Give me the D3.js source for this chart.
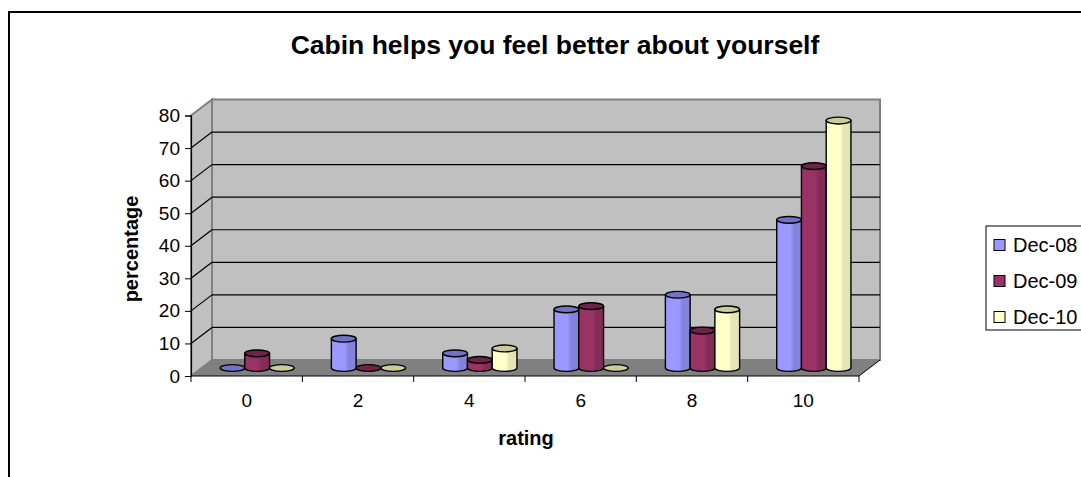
<!DOCTYPE html>
<html>
<head>
<meta charset="utf-8">
<script src="https://cdn.jsdelivr.net/npm/d3@7"></script>
<style>
  body { margin: 0; background: #fff; }
  svg { display: block; font-family: Arial, "Liberation Sans", sans-serif; }
</style>
</head>
<body>
<div id="chart"></div>
<script>
'use strict';

// data
const categories = ["0", "2", "4", "6", "8", "10"];
const seriesNames = ["Dec-08", "Dec-09", "Dec-10"];
const dec08 = [0, 9, 4.5, 18, 22.5, 45.5];
const dec09 = [4.5, 0, 2.5, 19, 11.5, 62];
const dec10 = [0, 0, 6, 0, 18, 76];
const yTicks = [0, 10, 20, 30, 40, 50, 60, 70, 80];

const seriesValues = [dec08, dec09, dec10];

// body colour, darker side, top ellipse
const colors = {
  "Dec-08": { body: "#9999ff", dark: "#8383dc", top: "#7373c6" },
  "Dec-09": { body: "#993366", dark: "#842c58", top: "#6e2449" },
  "Dec-10": { body: "#ffffcc", dark: "#e4e4b4", top: "#cccc99" }
};

const W = 1081, H = 477;
// front plane of the 3d box, plus depth offset
const left = 191, right = 859, floorY = 376, topY = 115.5;
const dx = 21, dy = 16;

const svg = d3.select("#chart").append("svg")
  .attr("width", W).attr("height", H);

// outer chart border (runs off the window)
svg.append("rect")
  .attr("x", 9).attr("y", 12)
  .attr("width", W + 20).attr("height", H + 20)
  .attr("fill", "#fff").attr("stroke", "#000").attr("stroke-width", 2);

const x = d3.scaleBand().domain(categories).range([left, right])
  .paddingInner(1 / 3).paddingOuter(1 / 6);
const xs = d3.scaleBand().domain(seriesNames).range([0, x.bandwidth()]);
const y = d3.scaleLinear().domain([0, 80]).range([floorY, topY]);

// ****************** walls and floor ***************************
const defs = svg.append("defs");
seriesNames.forEach(function(s, i) {
  const g = defs.append("linearGradient").attr("id", "grad" + i)
    .attr("x1", "0%").attr("x2", "100%");
  g.append("stop").attr("offset", "0%").attr("stop-color", colors[s].body);
  g.append("stop").attr("offset", "55%").attr("stop-color", colors[s].body);
  g.append("stop").attr("offset", "70%").attr("stop-color", colors[s].dark);
  g.append("stop").attr("offset", "100%").attr("stop-color", colors[s].dark);
});

const wallStroke = "#808080";
// side wall
svg.append("path")
  .attr("d", `M${left},${y(0)} L${left},${y(80)} L${left + dx},${y(80) - dy} L${left + dx},${y(0) - dy} Z`)
  .attr("fill", "#c0c0c0").attr("stroke", wallStroke).attr("stroke-width", 2);
// back wall
svg.append("rect")
  .attr("x", left + dx).attr("y", y(80) - dy)
  .attr("width", right - left).attr("height", y(0) - y(80))
  .attr("fill", "#c0c0c0").attr("stroke", wallStroke).attr("stroke-width", 2);
// floor
svg.append("path")
  .attr("d", `M${left},${y(0)} L${right},${y(0)} L${right + dx},${y(0) - dy} L${left + dx},${y(0) - dy} Z`)
  .attr("fill", "#808080").attr("stroke", "none");
svg.append("line")
  .attr("x1", right).attr("y1", y(0)).attr("x2", right + dx).attr("y2", y(0) - dy)
  .attr("stroke", "#000").attr("stroke-width", 1);

// gridlines
const grid = yTicks.filter(function(t) { return t > 0 && t < 80; });
svg.selectAll("line.gridSide").data(grid).enter().append("line")
  .attr("class", "gridSide")
  .attr("x1", left).attr("y1", function(d) { return y(d); })
  .attr("x2", left + dx).attr("y2", function(d) { return y(d) - dy; })
  .attr("stroke", "#000").attr("stroke-width", 1.2);
svg.selectAll("line.gridBack").data(grid).enter().append("line")
  .attr("class", "gridBack")
  .attr("x1", left + dx).attr("y1", function(d) { return y(d) - dy; })
  .attr("x2", right + dx).attr("y2", function(d) { return y(d) - dy; })
  .attr("stroke", "#000").attr("stroke-width", 1.2);

// ****************** axes ***************************
const yAxis = svg.append("g")
  .attr("transform", `translate(${left},0)`)
  .call(d3.axisLeft(y).tickValues(yTicks).tickSize(6).tickPadding(5));
yAxis.select(".domain").attr("stroke", "#000").attr("stroke-width", 1.2);
yAxis.selectAll(".tick line").attr("stroke", "#000");
yAxis.selectAll("text").attr("font-size", 19).attr("font-family", "Arial, 'Liberation Sans', sans-serif").attr("fill", "#000");

svg.append("line")
  .attr("x1", left).attr("y1", floorY).attr("x2", right).attr("y2", floorY)
  .attr("stroke", "#000").attr("stroke-width", 1.2);
const bounds = d3.range(categories.length + 1).map(function(i) { return left + i * x.step(); });
svg.selectAll("line.xtick").data(bounds).enter().append("line")
  .attr("class", "xtick")
  .attr("x1", function(d) { return d; }).attr("x2", function(d) { return d; })
  .attr("y1", floorY).attr("y2", floorY + 6)
  .attr("stroke", "#000");
svg.selectAll("text.xlab").data(categories).enter().append("text")
  .attr("class", "xlab")
  .attr("x", function(d) { return x(d) + x.bandwidth() / 2; })
  .attr("y", 407)
  .attr("text-anchor", "middle").attr("font-size", 19)
  .text(function(d) { return d; });

// ****************** cylinders ***************************
const rx = xs.bandwidth() / 2, ry = 3.4;
const bars = [];
seriesNames.forEach(function(s, si) {
  categories.forEach(function(c, ci) {
    bars.push({ s: s, si: si, c: c, v: seriesValues[si][ci] });
  });
});
const barG = svg.append("g");
bars.forEach(function(d) {
  const x0 = x(d.c) + xs(d.s) + dx / 2;
  const cx = x0 + rx;
  const yb = y(0) - dy / 2;
  const yt = y(d.v) - dy / 2;
  const g = barG.append("g");
  if (d.v > 0) {
    g.append("path")
      .attr("d", `M${x0},${yt} L${x0},${yb} A${rx},${ry} 0 0 0 ${x0 + 2 * rx},${yb} L${x0 + 2 * rx},${yt} Z`)
      .attr("fill", `url(#grad${d.si})`)
      .attr("stroke", "#000").attr("stroke-width", 1.4);
  }
  g.append("ellipse")
    .attr("cx", cx).attr("cy", yt).attr("rx", rx).attr("ry", ry)
    .attr("fill", colors[d.s].top)
    .attr("stroke", "#000").attr("stroke-width", 1.4);
});

// ****************** titles ***************************
svg.append("text")
  .attr("x", 555).attr("y", 54)
  .attr("text-anchor", "middle").attr("font-size", 26.5).attr("font-weight", "bold")
  .text("Cabin helps you feel better about yourself");
svg.append("text")
  .attr("transform", "translate(138,249) rotate(-90)")
  .attr("text-anchor", "middle").attr("font-size", 20).attr("font-weight", "bold")
  .text("percentage");
svg.append("text")
  .attr("x", 526).attr("y", 445)
  .attr("text-anchor", "middle").attr("font-size", 20).attr("font-weight", "bold")
  .text("rating");

// ****************** legend ***************************
const legend = svg.append("g");
legend.append("rect")
  .attr("x", 986).attr("y", 226).attr("width", 120).attr("height", 104)
  .attr("fill", "#fff").attr("stroke", "#000").attr("stroke-width", 1);
const items = legend.selectAll("g.item").data(seriesNames).enter().append("g")
  .attr("class", "item")
  .attr("transform", function(d, i) { return `translate(994,${245 + i * 36})`; });
items.append("rect")
  .attr("x", 0).attr("y", -5.5).attr("width", 11).attr("height", 11)
  .attr("fill", function(d) { return colors[d].body; })
  .attr("stroke", "#000").attr("stroke-width", 1);
items.append("text")
  .attr("x", 19).attr("y", 7)
  .attr("font-size", 20)
  .text(function(d) { return d; });
</script>
</body>
</html>
